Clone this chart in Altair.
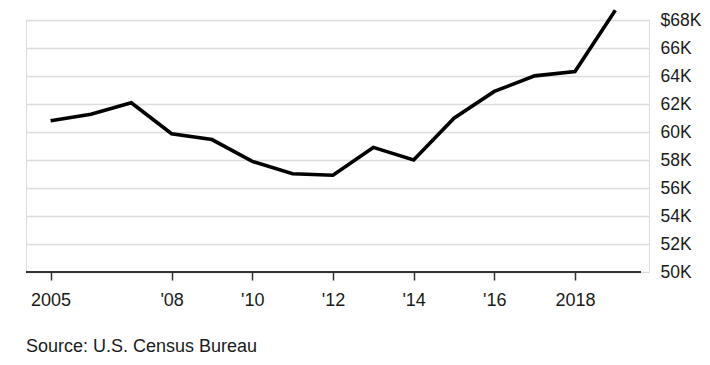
import altair as alt
import pandas as pd

years = [2005, 2006, 2007, 2008, 2009, 2010, 2011, 2012, 2013, 2014, 2015, 2016, 2017, 2018, 2019]
income_k = [60.8, 61.27, 62.09, 59.88, 59.46, 57.9, 57.02, 56.91, 58.9, 58.0, 60.99, 62.9, 64.01, 64.32, 68.7]
x_tick_values = [2005, 2008, 2010, 2012, 2014, 2016, 2018]
y_tick_values = [50, 52, 54, 56, 58, 60, 62, 64, 66, 68]
source_text = "Source: U.S. Census Bureau"

df = pd.DataFrame({"year": years, "income": income_k})

FONT = "Liberation Sans"

x_enc = alt.X(
    "year:Q",
    scale=alt.Scale(domain=[2004.39, 2019.835], nice=False, zero=False),
    axis=alt.Axis(
        values=x_tick_values,
        title=None,
        grid=False,
        domain=False,
        ticks=True,
        tickSize=8,
        tickWidth=1.5,
        tickColor="#333333",
        labelPadding=11,
        labelFontSize=18,
        labelFont=FONT,
        labelColor="#1a1a1a",
        labelExpr="(datum.value == 2005 || datum.value == 2018) ? toString(datum.value) : \"'\" + substring(toString(datum.value), 2, 4)",
    ),
)

y_enc = alt.Y(
    "income:Q",
    scale=alt.Scale(domain=[50, 68], nice=False, zero=False),
    axis=alt.Axis(
        orient="right",
        values=y_tick_values,
        title=None,
        grid=True,
        gridColor="#dcdcdc",
        gridWidth=1.5,
        domain=False,
        ticks=False,
        labelPadding=11,
        labelAlign="left",
        labelFontSize=17.5,
        labelFont=FONT,
        labelColor="#1a1a1a",
        labelExpr="datum.value == 68 ? '$68K' : datum.value + 'K'",
    ),
)

line = alt.Chart(df).mark_line(
    color="#000000", strokeWidth=3.6, strokeJoin="miter", strokeCap="butt", clip=False
).encode(x=x_enc, y=y_enc)

baseline = alt.Chart(pd.DataFrame({"a": [0]})).mark_rule(
    color="#333333", strokeWidth=1.8
).encode(x=alt.value(0), x2=alt.value(615), y=alt.value(252))

source = alt.Chart(pd.DataFrame({"t": [source_text]})).mark_text(
    align="left", baseline="alphabetic", fontSize=18, font=FONT, color="#1a1a1a"
).encode(text="t:N", x=alt.value(0), y=alt.value(332))

chart = (
    alt.layer(line, baseline, source)
    .properties(
        width=623,
        height=252,
        autosize=alt.AutoSizeParams(type="none"),
        padding={"left": 18, "top": 12, "right": 53, "bottom": 84},
    )
    .configure_view(stroke=None)
    .configure(background="white")
)

chart.save("out.html", embed_options={"renderer": "svg", "actions": False})
